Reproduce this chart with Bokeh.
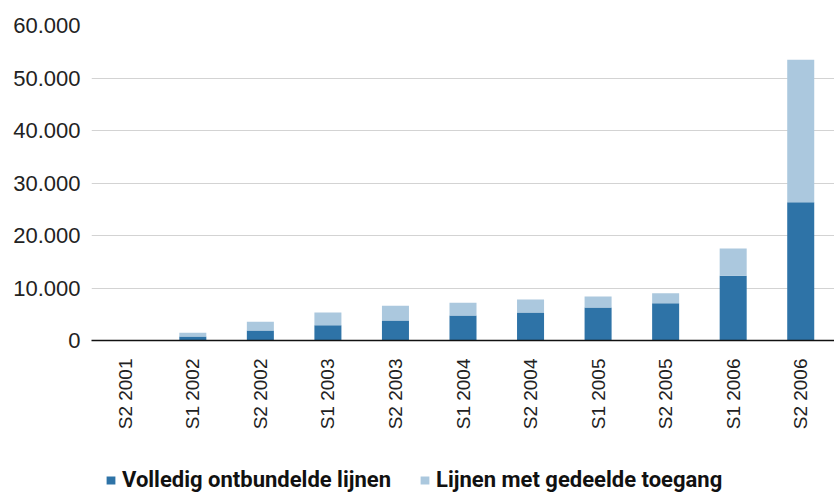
import math
from bokeh.plotting import figure
from bokeh.layouts import column
from bokeh.models import (ColumnDataSource, Legend, LegendItem, FixedTicker,
                          CustomJSTickFormatter, Range1d, FactorRange)
from bokeh.embed import file_html
from bokeh.resources import INLINE

# ---- data ----
periods = ["S2 2001", "S1 2002", "S2 2002", "S1 2003", "S2 2003", "S1 2004",
           "S2 2004", "S1 2005", "S2 2005", "S1 2006", "S2 2006"]
volledig = [0, 760, 1900, 2920, 3810, 4760, 5330, 6290, 7110, 12320, 26340]
gedeeld = [0, 700, 1660, 2410, 2790, 2420, 2480, 2090, 1900, 5200, 27120]
y_ticks = [0, 10000, 20000, 30000, 40000, 50000, 60000]
series_names = ["Volledig ontbundelde lijnen", "Lijnen met gedeelde toegang"]

dark = "#2e73a7"
light = "#abc8de"

src = ColumnDataSource(dict(period=periods, volledig=volledig, gedeeld=gedeeld))

p = figure(width=834, height=456, output_backend="svg", toolbar_location=None,
           x_range=FactorRange(*periods, range_padding=0),
           y_range=Range1d(0, 60000),
           min_border_left=91, min_border_right=0, min_border_top=25,
           min_border_bottom=116)
p.outline_line_color = None
p.background_fill_color = "white"
p.border_fill_color = "white"

p.vbar_stack(["volledig", "gedeeld"], x="period", width=0.4,
             source=src, color=[dark, light], line_color=None)

# axes
p.yaxis.ticker = FixedTicker(ticks=y_ticks)
p.yaxis.formatter = CustomJSTickFormatter(
    code="return tick.toString().replace(/\\B(?=(\\d{3})+(?!\\d))/g, '.');")
p.yaxis.axis_line_color = None
p.yaxis.major_tick_line_color = None
p.yaxis.minor_tick_line_color = None
p.yaxis.major_tick_out = 0
p.yaxis.major_tick_in = 0
p.yaxis.major_label_standoff = 11
p.yaxis.major_label_text_font = "Liberation Sans"
p.yaxis.major_label_text_font_size = "22px"
p.yaxis.major_label_text_color = "#222222"

p.xaxis.axis_line_color = "#111111"
p.xaxis.axis_line_width = 1.5
p.xaxis.major_tick_line_color = None
p.xaxis.minor_tick_line_color = None
p.xaxis.major_tick_out = 0
p.xaxis.major_tick_in = 0
p.xaxis.major_label_orientation = math.pi / 2
p.xaxis.major_label_standoff = 18
p.xaxis.major_label_text_font = "Liberation Sans"
p.xaxis.major_label_text_font_size = "19px"
p.xaxis.major_label_text_color = "#222222"

p.xgrid.grid_line_color = None
p.ygrid.grid_line_color = "#d3d3d3"
p.ygrid.grid_line_width = 1.2

# legend strip (hidden proxy renderers only supply the legend swatches)
q = figure(width=834, height=36, output_backend="svg", toolbar_location=None,
           x_range=FactorRange(*periods, range_padding=0), y_range=Range1d(0, 60000),
           min_border_left=0, min_border_right=0, min_border_top=0,
           min_border_bottom=0)
q.axis.visible = False
q.grid.visible = False
q.outline_line_color = None
r1 = q.vbar(x="period", top="volledig", width=0.4, source=src, color=dark, line_color=None)
r2 = q.vbar(x="period", top="gedeeld", width=0.4, source=src, color=light, line_color=None)
r1.visible = False
r2.visible = False

legend = Legend(items=[LegendItem(label=series_names[0], renderers=[r1]),
                       LegendItem(label=series_names[1], renderers=[r2])],
                location=(14, 0), orientation="horizontal",
                padding=0, margin=0, spacing=28, label_standoff=6,
                glyph_width=11, glyph_height=10,
                border_line_color=None, background_fill_alpha=0,
                inactive_fill_alpha=0,
                label_text_font="Roboto",
                label_text_font_style="bold",
                label_text_font_size="22px",
                label_text_color="#111111")
q.add_layout(legend, "center")

layout = column(p, q, spacing=0)
open("out.html", "w").write(file_html(layout, INLINE))
